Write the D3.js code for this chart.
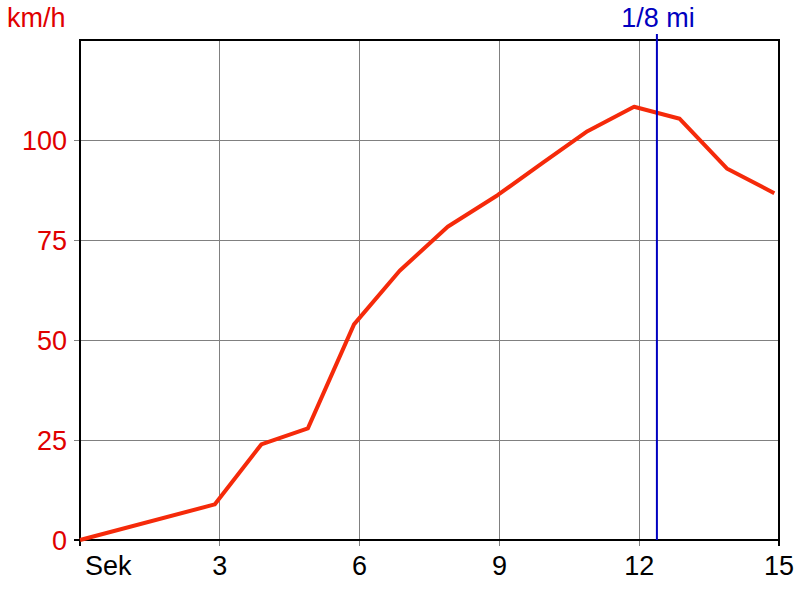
<!DOCTYPE html>
<html><head><meta charset="utf-8">
<script src="https://cdn.jsdelivr.net/npm/d3@7"></script>
<style>body{margin:0;background:#fff}svg{display:block}</style>
</head><body>
<script>
const timeSec = [0, 2.89, 3.89, 4.89, 5.88, 6.86, 7.89, 8.96, 9.92, 10.89, 11.89, 12.87, 13.88, 14.9];
const speedKmh = [0, 8.9, 23.9, 27.9, 53.9, 67.3, 78.3, 86.2, 94.2, 102.2, 108.3, 105.3, 92.9, 86.7];
const xTicks = [0, 3, 6, 9, 12, 15];
const xTickLabels = ["Sek", "3", "6", "9", "12", "15"];
const yTicks = [0, 25, 50, 75, 100];
const markerX = 12.38;
const markerLabel = "1/8 mi";
const yUnit = "km/h";

const W = 800, H = 600;
const m = {l: 80, r: 21, t: 40, b: 60};
const svg = d3.select("body").append("svg").attr("width", W).attr("height", H);
const x = d3.scaleLinear().domain([0, 15]).range([m.l, W - m.r]);
const y = d3.scaleLinear().domain([0, 125]).range([H - m.b, m.t]);
const font = "'Liberation Sans', Arial, sans-serif";
const fs = 27;

// grid
svg.append("g").selectAll("line").data(xTicks.filter(d => d > 0 && d < 15)).join("line")
  .attr("x1", d => x(d)).attr("x2", d => x(d)).attr("y1", y(125)).attr("y2", y(0) + 6)
  .attr("stroke", "#808080").attr("stroke-width", 1).attr("shape-rendering", "crispEdges");
svg.append("g").selectAll("line").data(yTicks.filter(d => d > 0)).join("line")
  .attr("x1", x(0) - 6).attr("x2", x(15)).attr("y1", d => y(d)).attr("y2", d => y(d))
  .attr("stroke", "#808080").attr("stroke-width", 1).attr("shape-rendering", "crispEdges");

// frame
const frame = svg.append("g").attr("stroke", "#000").attr("stroke-width", 2).attr("fill", "none");
frame.append("rect").attr("x", x(0)).attr("y", y(125)).attr("width", x(15) - x(0)).attr("height", y(0) - y(125));
frame.append("line").attr("x1", x(0)).attr("x2", x(0)).attr("y1", y(0)).attr("y2", y(0) + 6);
frame.append("line").attr("x1", x(15)).attr("x2", x(15)).attr("y1", y(0)).attr("y2", y(0) + 6);
frame.append("line").attr("x1", x(0) - 6).attr("x2", x(0)).attr("y1", y(0)).attr("y2", y(0));

// y labels
svg.append("g").selectAll("text").data(yTicks).join("text")
  .attr("x", x(0) - 13).attr("y", d => y(d) + 9.5).attr("text-anchor", "end")
  .attr("font-family", font).attr("font-size", fs).attr("fill", "#e00000").text(d => d);
svg.append("text").attr("x", 7).attr("y", 27).attr("font-family", font).attr("font-size", fs)
  .attr("fill", "#e00000").text(yUnit);

// x labels
svg.append("g").selectAll("text").data(xTicks).join("text")
  .attr("x", (d, i) => i === 0 ? x(d) + 5 : x(d)).attr("y", y(0) + 34.5)
  .attr("text-anchor", (d, i) => i === 0 ? "start" : "middle")
  .attr("font-family", font).attr("font-size", fs).attr("fill", "#000").text((d, i) => xTickLabels[i]);

// line
svg.append("path").datum(timeSec.map((t, i) => [t, speedKmh[i]]))
  .attr("d", d3.line().x(d => x(d[0])).y(d => y(d[1])))
  .attr("fill", "none").attr("stroke", "#f52a0a").attr("stroke-width", 4).attr("stroke-linejoin", "round");

// marker
svg.append("line").attr("x1", x(markerX)).attr("x2", x(markerX)).attr("y1", 34).attr("y2", y(0))
  .attr("stroke", "#0000c0").attr("stroke-width", 2);
svg.append("text").attr("x", x(markerX) + 1).attr("y", 27).attr("text-anchor", "middle")
  .attr("font-family", font).attr("font-size", fs).attr("fill", "#0000c0").text(markerLabel);
</script>
</body></html>
